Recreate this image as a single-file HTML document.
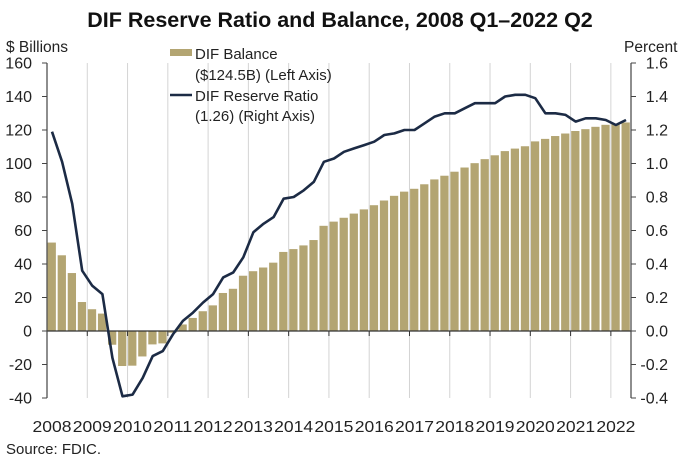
<!DOCTYPE html>
<html><head><meta charset="utf-8"><style>
body{margin:0;background:#fff;}
svg text{font-family:"Liberation Sans",sans-serif;}
</style></head><body>
<svg width="680" height="463" viewBox="0 0 680 463">
<text x="340" y="27" text-anchor="middle" font-size="21.5" font-weight="bold" fill="#111">DIF Reserve Ratio and Balance, 2008 Q1–2022 Q2</text>
<text x="6" y="52" font-size="15.5" fill="#222">$ Billions</text>
<text x="624" y="52" font-size="15.5" fill="#222">Percent</text>
<g id="grid"></g><g id="bars"></g><g id="axes"></g><g id="line"></g>
<g>
<rect x="170" y="49" width="22" height="7" fill="#b3a572"/>
<text x="195" y="59" font-size="15" fill="#222">DIF Balance</text>
<text x="195" y="80" font-size="15" fill="#222">($124.5B) (Left Axis)</text>
<line x1="170" y1="95" x2="192" y2="95" stroke="#1c2b45" stroke-width="2.5"/>
<text x="195" y="101" font-size="15" fill="#222">DIF Reserve Ratio</text>
<text x="195" y="121" font-size="15" fill="#222">(1.26) (Right Axis)</text>
</g>
<text x="6" y="454" font-size="15" fill="#222">Source: FDIC.</text>
</svg>
<script>
const years=[2008,2009,2010,2011,2012,2013,2014,2015,2016,2017,2018,2019,2020,2021,2022];
const leftTicks=[160,140,120,100,80,60,40,20,0,-20,-40];
const rightTicks=["1.6","1.4","1.2","1.0","0.8","0.6","0.4","0.2","0.0","-0.2","-0.4"];
const balance=[52.8,45.2,34.6,17.3,13.0,10.4,-8.2,-20.9,-20.7,-15.2,-8.0,-7.4,-1.0,3.9,7.8,11.8,15.3,22.7,25.2,33.0,35.7,37.9,40.8,47.2,48.9,51.1,54.3,62.8,65.3,67.6,70.1,72.6,75.1,77.9,80.7,83.2,84.9,87.6,90.5,92.7,95.1,97.6,100.2,102.6,104.9,107.4,108.9,110.3,113.2,114.7,116.4,117.9,119.4,120.5,121.9,123.1,123.6,124.5];
const ratio=[1.19,1.01,0.76,0.36,0.27,0.22,-0.16,-0.39,-0.38,-0.28,-0.15,-0.12,-0.02,0.06,0.11,0.17,0.22,0.32,0.35,0.44,0.59,0.64,0.68,0.79,0.80,0.84,0.89,1.01,1.03,1.07,1.09,1.11,1.13,1.17,1.18,1.20,1.20,1.24,1.28,1.30,1.30,1.33,1.36,1.36,1.36,1.40,1.41,1.41,1.39,1.30,1.30,1.29,1.25,1.27,1.27,1.26,1.23,1.26];
const NS="http://www.w3.org/2000/svg";
const X0=47,X1=631,step=(X1-X0)/58;
const yL=v=>331-(v/160)*268;
const yR=v=>331-(v/1.6)*268;
const qx=i=>X0+i*step;
function mk(tag,attrs,parent,txt){const e=document.createElementNS(NS,tag);for(const k in attrs)e.setAttribute(k,attrs[k]);if(txt!==undefined)e.textContent=txt;document.getElementById(parent).appendChild(e);return e;}
years.forEach((y,k)=>{
  const x=qx(k*4);
  if(k>0){const g=mk('line',{x1:x,x2:x,y1:yL(160),y2:yL(-40),stroke:'#d4d4d4','stroke-width':1},'grid');
  
  
  const t=mk('line',{x1:x,x2:x,y1:331,y2:336,stroke:'#333','stroke-width':1},'axes');
  
  }
  const l=mk('text',{x:x+5,y:432,'text-anchor':'middle','font-size':16,fill:'#222','textLength':39,'lengthAdjust':'spacingAndGlyphs'},'axes',String(y));
  
  
});
balance.forEach((v,i)=>{
  const y0=yL(0),y1=yL(v);
  const r=mk('rect',{x:qx(i)+0.6,y:Math.min(y0,y1),width:step-1.8,height:Math.abs(y1-y0),fill:'#b3a572'},'bars');
  
  
});
let a=mk('line',{x1:X0,x2:X1,y1:331,y2:331,stroke:'#333','stroke-width':1.2},'axes');


a=mk('line',{x1:X0,x2:X0,y1:yL(160),y2:yL(-40),stroke:'#444','stroke-width':1.2},'axes');


a=mk('line',{x1:X1,x2:X1,y1:yL(160),y2:yL(-40),stroke:'#444','stroke-width':1.2},'axes');


leftTicks.forEach(v=>{
  const y=yL(v);
  const t=mk('line',{x1:X0-5,x2:X0,y1:y,y2:y,stroke:'#444'},'axes');
  
  
  const l=mk('text',{x:32,y:y+5.5,'text-anchor':'end','font-size':16,fill:'#222'},'axes',String(v));
  
  
});
rightTicks.forEach(s=>{
  const y=yR(parseFloat(s));
  const t=mk('line',{x1:X1,x2:X1+5,y1:y,y2:y,stroke:'#444'},'axes');
  
  
  const l=mk('text',{x:668,y:y+5.5,'text-anchor':'end','font-size':16,fill:'#222'},'axes',s);
  
  
});
const pts=ratio.map((v,i)=>(qx(i)+step/2).toFixed(1)+','+yR(v).toFixed(1)).join(' ');
const pl=mk('polyline',{points:pts,fill:'none',stroke:'#1c2b45','stroke-width':2.6,'stroke-linejoin':'round'},'line');


</script>
</body></html>
